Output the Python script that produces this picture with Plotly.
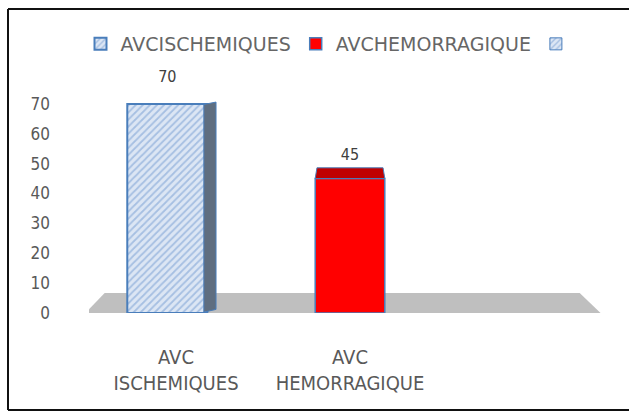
import plotly.graph_objects as go

categories = ["AVC<br>ISCHEMIQUES", "AVC<br>HEMORRAGIQUE", ""]
series_names = ["AVCISCHEMIQUES", "AVCHEMORRAGIQUE", " "]
values = [70, 45]
y_ticks = [0, 10, 20, 30, 40, 50, 60, 70]

W, H = 629, 412
ml, mr, mt, mb = 89, 18, 74, 99
pw, ph = W - ml - mr, H - mt - mb
pos = [0, 1, 2]
bar_w = [0.46, 0.40]
bar_off = [-0.28, -0.20]
gray = "#595959"
cond = "DejaVu Sans Condensed, Liberation Sans Narrow, Arial Narrow, sans-serif"
wide = "DejaVu Sans, Liberation Sans, Arial, sans-serif"
hatch = dict(shape="/", fgcolor="#6f98cf", bgcolor="#dce6f4", size=5, solidity=0.35)

fig = go.Figure()
fig.add_trace(go.Bar(
    x=[pos[0]], y=[values[0]], name=series_names[0], width=bar_w[0], offset=bar_off[0],
    marker=dict(color="#c6d9f1", line=dict(color="#4a7ebb", width=2), pattern=hatch),
))
fig.add_trace(go.Bar(
    x=[pos[1]], y=[values[1]], name=series_names[1], width=bar_w[1], offset=bar_off[1],
    marker=dict(color="#ff0000", line=dict(color="#4a7ebb", width=1.5)),
))
fig.add_trace(go.Bar(
    x=[pos[2]], y=[None], name=series_names[2], width=bar_w[1],
    marker=dict(color="#c6d9f1", line=dict(color="#4a7ebb", width=1), pattern=hatch),
))

# data labels
centers = [p + o + w / 2 for p, o, w in zip(pos, bar_off, bar_w)]
label_lift = [8.7, 7.7]
fig.add_trace(go.Scatter(
    x=centers, y=[v + d for v, d in zip(values, label_lift)], mode="text",
    text=[str(v) for v in values], textfont=dict(family=cond, size=16, color="#404040"),
    showlegend=False, hoverinfo="skip", cliponaxis=False,
))

# floor (decorative)
fig.add_shape(type="path", xref="x", yref="y", layer="below",
              path="M -0.52 0 L 2.44 0 L 2.32 6.7 L -0.41 6.7 Z",
              fillcolor="#bfbfbf", line=dict(width=0))

# 3D side of bar 1, top of bar 2 (derived from data)
x1r = pos[0] + bar_off[0] + bar_w[0]
v1 = values[0]
fig.add_shape(type="path", xref="x", yref="y", layer="above",
              path=f"M {x1r-0.02} 0.3 L {x1r+0.05} 1.2 L {x1r+0.05} {v1+0.6} L {x1r-0.02} {v1-0.2} Z",
              fillcolor="#5f6e80", line=dict(color="#4a7ebb", width=1))
v2 = values[1]
x2l = pos[1] + bar_off[1]
x2r = x2l + bar_w[1]
fig.add_shape(type="path", xref="x", yref="y", layer="above",
              path=f"M {x2l} {v2} L {x2r} {v2} L {x2r-0.01} {v2+3.6} L {x2l+0.01} {v2+3.6} Z",
              fillcolor="#c00000", line=dict(color="#4a7ebb", width=1))

# outer frame: left, top, bottom edges
fx0, fx1 = (8 - ml) / pw, (W + 20 - ml) / pw
fy0, fy1 = (H - 410 - mb) / ph, (H - 9 - mb) / ph
frame = dict(color="#111111", width=2)
for x0, y0, x1, y1 in [(fx0, fy0, fx0, fy1), (fx0, fy1, fx1, fy1), (fx0, fy0, fx1, fy0)]:
    fig.add_shape(type="line", xref="paper", yref="paper", x0=x0, y0=y0, x1=x1, y1=y1, line=frame)

fig.update_layout(
    width=W, height=H, margin=dict(l=ml, r=mr, t=mt, b=mb, autoexpand=False),
    paper_bgcolor="white", plot_bgcolor="white",
    font=dict(family=cond, color=gray, size=15),
    showlegend=True,
    legend=dict(orientation="h", x=(334 - ml) / pw, xanchor="center", y=1 + (mt - 44) / ph,
                yanchor="middle", font=dict(family=wide, size=19, color="#666666"),
                itemwidth=30, traceorder="normal"),
    xaxis=dict(range=[-0.5, 2.5], tickvals=pos, ticktext=categories, showgrid=False,
               zeroline=False, showline=False, ticks="", ticklabelstandoff=30,
               tickfont=dict(size=20, color=gray), automargin=False),
    yaxis=dict(range=[0, 80], tickvals=y_ticks, showgrid=False, zeroline=False,
               showline=False, ticks="", ticklabelstandoff=38,
               tickfont=dict(size=17, color=gray), automargin=False),
    bargap=0.5,
)

fig.write_html("out.html", config={"displayModeBar": False},
               post_script="document.body.style.margin='0';document.body.style.overflow='hidden';")
